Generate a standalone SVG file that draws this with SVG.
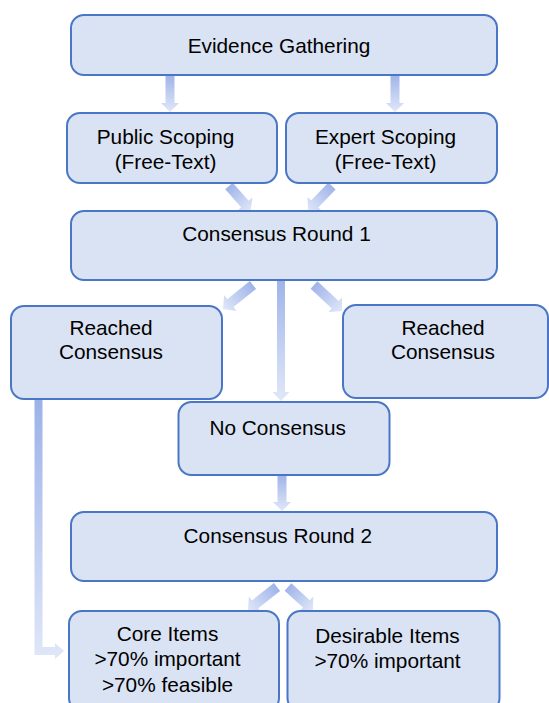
<svg xmlns="http://www.w3.org/2000/svg" width="549" height="703" viewBox="0 0 549 703">
  <style>
    .box { fill: #dae3f3; stroke: #4a76c6; stroke-width: 2; }
    .lbl { font-family: "Liberation Sans", Arial, sans-serif; font-size: 20.8px; fill: #000; text-anchor: middle; }
    .arrow { fill: url(#flow); }
  </style>
  <defs>
    <!-- arrow fill fades from mid blue at the tail to pale blue at the head -->
    <linearGradient id="flow" x1="0" y1="0" x2="0" y2="1">
      <stop offset="0" stop-color="#9fb4e9"/>
      <stop offset="1" stop-color="#e0e7f8"/>
    </linearGradient>
    <linearGradient id="elbow" gradientUnits="userSpaceOnUse" x1="0" y1="399" x2="0" y2="660">
      <stop offset="0" stop-color="#9cb2e8"/>
      <stop offset="1" stop-color="#e0e7f8"/>
    </linearGradient>
  </defs>

  <rect width="549" height="703" fill="#ffffff"/>

  <g id="connectors">
    <!-- each block arrow is drawn pointing down from (0,0), then placed -->
    <polygon class="arrow" transform="translate(170,75)" points="-4.5,0 4.5,0 4.5,28 9,28 0,37 -9,28 -4.5,28"/>
    <polygon class="arrow" transform="translate(395,75)" points="-4.5,0 4.5,0 4.5,28 9,28 0,37 -9,28 -4.5,28"/>
    <polygon class="arrow" transform="translate(229,186) rotate(-41.3)" points="-5,0 5,0 5,24 10,24 0,33 -10,24 -5,24"/>
    <polygon class="arrow" transform="translate(332,186) rotate(43.8)" points="-5,0 5,0 5,25 10,25 0,34.5 -10,25 -5,25"/>
    <polygon class="arrow" transform="translate(253,285) rotate(51.3)" points="-5,0 5,0 5,29 10,29 0,38.4 -10,29 -5,29"/>
    <polygon class="arrow" transform="translate(314,285) rotate(-47.1)" points="-5,0 5,0 5,29 10,29 0,38.2 -10,29 -5,29"/>
    <polygon class="arrow" transform="translate(281,280)" points="-4,0 4,0 4,112 8.5,112 0,121 -8.5,112 -4,112"/>
    <polygon class="arrow" transform="translate(282,475)" points="-4.5,0 4.5,0 4.5,27 9,27 0,36 -9,27 -4.5,27"/>
    <polygon class="arrow" transform="translate(277,587) rotate(51.6)" points="-5,0 5,0 5,28 10,28 0,37 -10,28 -5,28"/>
    <polygon class="arrow" transform="translate(288,587) rotate(-47.4)" points="-5,0 5,0 5,25 10,25 0,34 -10,25 -5,25"/>
    <!-- elbow from the left "Reached Consensus" down to "Core Items" -->
    <polygon fill="url(#elbow)" points="34.5,399 42.5,399 42.5,647 55,647 55,643 64,651 55,659 55,655 34.5,655"/>
  </g>

  <g id="evidence">
    <rect class="box" x="71" y="15" width="426" height="60" rx="13"/>
    <text class="lbl" x="279" y="52.5">Evidence Gathering</text>
  </g>

  <g id="public-scoping">
    <rect class="box" x="67" y="113" width="210" height="70" rx="13"/>
    <text class="lbl" x="165.5" y="143.5">Public Scoping</text>
    <text class="lbl" x="165.5" y="168.5">(Free-Text)</text>
  </g>

  <g id="expert-scoping">
    <rect class="box" x="286" y="113" width="211" height="70" rx="13"/>
    <text class="lbl" x="385.5" y="143.5">Expert Scoping</text>
    <text class="lbl" x="385.5" y="168.5">(Free-Text)</text>
  </g>

  <g id="round-1">
    <rect class="box" x="71" y="211" width="426" height="69" rx="13"/>
    <text class="lbl" x="276.5" y="240.5">Consensus Round 1</text>
  </g>

  <g id="reached-left">
    <rect class="box" x="11" y="306" width="211" height="93" rx="13"/>
    <text class="lbl" x="111" y="335">Reached</text>
    <text class="lbl" x="111" y="359">Consensus</text>
  </g>

  <g id="reached-right">
    <rect class="box" x="343" y="305" width="205" height="93" rx="13"/>
    <text class="lbl" x="443" y="335">Reached</text>
    <text class="lbl" x="443" y="359">Consensus</text>
  </g>

  <g id="no-consensus">
    <rect class="box" x="178.5" y="402" width="211" height="73" rx="13"/>
    <text class="lbl" x="277.7" y="435">No Consensus</text>
  </g>

  <g id="round-2">
    <rect class="box" x="71" y="512" width="426" height="69" rx="13"/>
    <text class="lbl" x="277.8" y="542.6">Consensus Round 2</text>
  </g>

  <g id="core-items">
    <rect class="box" x="69" y="611" width="210" height="100" rx="13"/>
    <text class="lbl" x="167.5" y="641">Core Items</text>
    <text class="lbl" x="167.5" y="666">&gt;70% important</text>
    <text class="lbl" x="167.5" y="691.5">&gt;70% feasible</text>
  </g>

  <g id="desirable-items">
    <rect class="box" x="287.5" y="611" width="212" height="100" rx="13"/>
    <text class="lbl" x="387.5" y="642.5">Desirable Items</text>
    <text class="lbl" x="387.5" y="668">&gt;70% important</text>
  </g>
</svg>
